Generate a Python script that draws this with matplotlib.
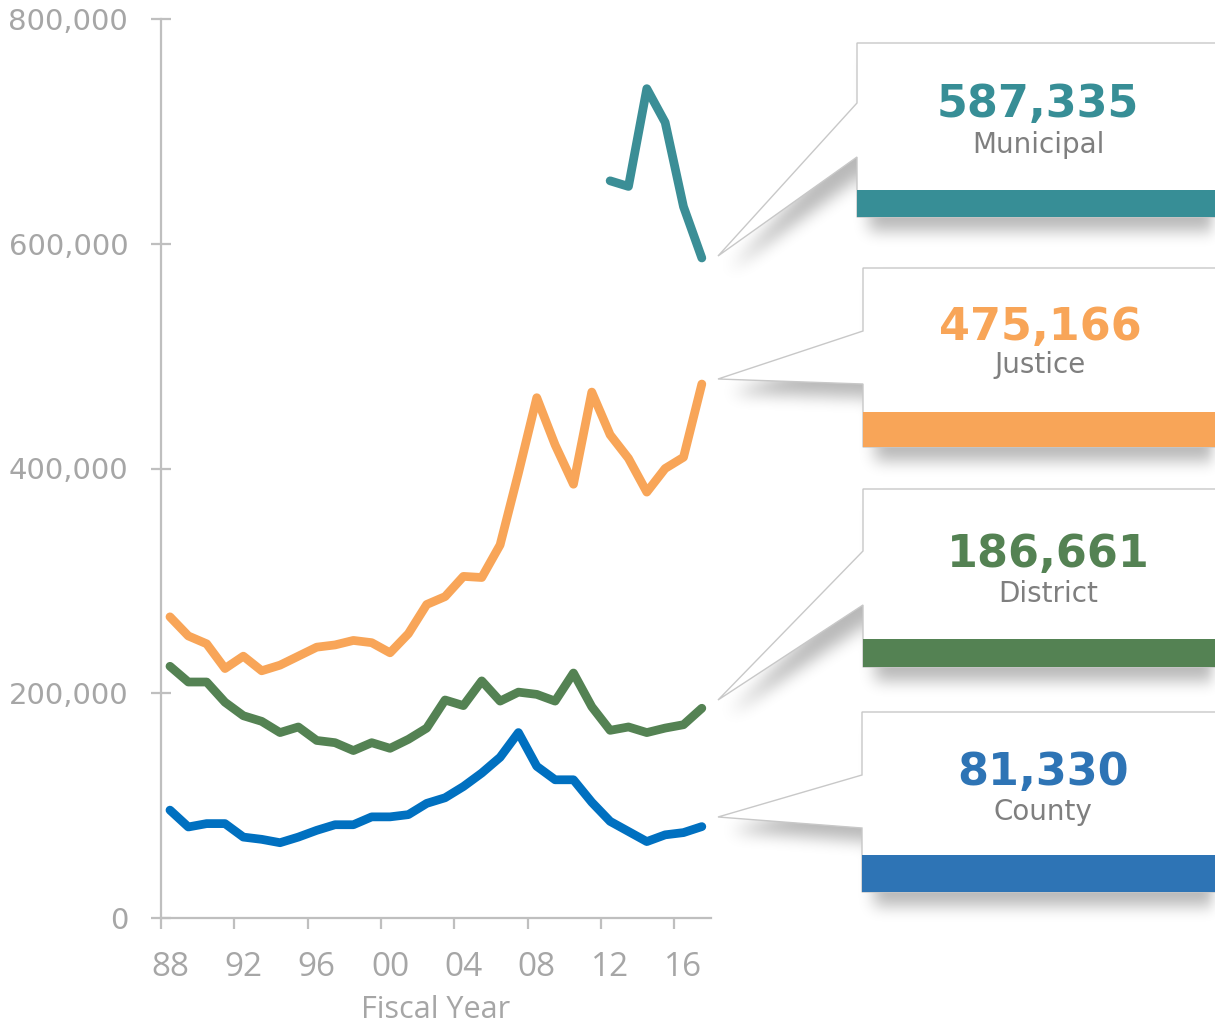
import numpy as np
import matplotlib.pyplot as plt
from matplotlib.patches import Polygon, Rectangle
from matplotlib.path import Path
from matplotlib.ticker import FixedLocator, NullFormatter

# caseload by court type, fiscal years 1988-2017
years = list(range(1988, 2018))
year_labels = ['88', '92', '96', '00', '04', '08', '12', '16']

county = [96000, 81000, 84000, 84000, 72000, 70000, 67000, 72000, 78000, 83000,
          83000, 90000, 90000, 92000, 102000, 107000, 117000, 129000, 143000, 165000,
          135000, 123000, 123000, 103000, 86000, 77000, 68000, 74000, 76000, 81330]
district = [224000, 210000, 210000, 192000, 180000, 175000, 165000, 170000, 158000, 156000,
            149000, 156000, 151000, 159000, 169000, 194000, 189000, 211000, 193000, 201000,
            199000, 193000, 218000, 188000, 167000, 170000, 165000, 169000, 172000, 186661]
justice = [268000, 251000, 244000, 222000, 233000, 220000, 225000, 233000, 241000, 243000,
           247000, 245000, 236000, 253000, 279000, 286000, 304000, 303000, 332000, 396000,
           463000, 421000, 386000, 468000, 430000, 409000, 379000, 400000, 410000, 475166]
municipal = [np.nan] * 24 + [656000, 651000, 738000, 708000, 633000, 587335]

names = ['Municipal', 'Justice', 'District', 'County']
series = [municipal, justice, district, county]
line_colors = ['#3B8E96', '#F8A558', '#548253', '#0070C0']
bar_colors = ['#378E96', '#F8A558', '#548253', '#2E74B5']

W, H = 1215, 1029
fig = plt.figure(figsize=(W / 100, H / 100), dpi=100)

x0, x1 = 160.8, 711.0
y0, y1 = 918.0, 19.0
ax = fig.add_axes([x0 / W, 1 - y0 / H, (x1 - x0) / W, (y0 - y1) / H])
idx = np.arange(len(years))
for s, c in zip(series, line_colors):
    ax.plot(idx, s, color=c, lw=6.3, solid_capstyle='round', solid_joinstyle='round', clip_on=False)

ax.set_xlim(-0.5, len(years) - 0.5)
ax.set_ylim(0, 800000)
grey = '#BFBFBF'
for side in ['top', 'right']:
    ax.spines[side].set_visible(False)
for side in ['left', 'bottom']:
    ax.spines[side].set_color(grey)
    ax.spines[side].set_linewidth(1.6)

ax.set_yticks([0, 200000, 400000, 600000, 800000])
ax.set_yticklabels([f'{v:,}' for v in [0, 200000, 400000, 600000, 800000]])
ax.tick_params(axis='y', direction='inout', length=15, width=1.6, color=grey, pad=16,
               labelsize=21, labelcolor='#A6A6A6')

ax.xaxis.set_major_locator(FixedLocator(np.arange(-0.5, len(years) - 1, 4)))
ax.xaxis.set_major_formatter(NullFormatter())
ax.xaxis.set_minor_locator(FixedLocator(np.arange(0, len(years), 4)))
ax.set_xticklabels(year_labels, minor=True, family='Open Sans')
ax.tick_params(axis='x', which='major', direction='out', length=8, width=1.6, color=grey)
ax.tick_params(axis='x', which='minor', length=0, pad=24, labelsize=24, labelcolor='#A6A6A6')
ax.set_xlabel('Fiscal Year', family='Open Sans', fontsize=22, color='#A6A6A6', labelpad=8)

# callout boxes, pixel layout: left, top, upper attach, lower attach, tip, bar top, bar bottom,
# text x, number baseline, label baseline
layout = [
    (857, 43, 103, 157, (718, 256), 190, 217, 1038, 117, 153),
    (863, 268, 331, 384, (718, 379), 412, 447, 1040, 340, 373),
    (863, 489, 551, 605, (718, 700), 639, 667, 1048, 567, 602),
    (862, 712, 775, 828, (718, 817), 855, 892, 1043, 785, 820),
]

ov = fig.add_axes([0, 0, 1, 1])
ov.patch.set_visible(False)
ov.axis('off')

# soft shadow under each callout
gy, gx = np.mgrid[0:H, 0:W] + 0.5
pts = np.column_stack([gx.ravel(), gy.ravel()])
mask = np.zeros(H * W)
shapes = []
for (L, top, up, low, tip, bt, bb, tx, nb, lb) in layout:
    shape = [(L, top), (W + 20, top), (W + 20, bb), (L, bb), (L, low), tip, (L, up)]
    shapes.append(shape)
    moved = [(px + 12, py + 14) for px, py in shape]
    mask = np.maximum(mask, Path(moved).contains_points(pts))
mask = mask.reshape(H, W)
k = np.ones(15) / 15
for _ in range(3):
    mask = np.apply_along_axis(lambda m: np.convolve(m, k, mode='same'), 0, mask)
    mask = np.apply_along_axis(lambda m: np.convolve(m, k, mode='same'), 1, mask)
rgba = np.zeros((H, W, 4))
rgba[..., 3] = 0.28 * mask
ov.imshow(rgba, extent=(0, W, H, 0), interpolation='bilinear', aspect='auto', zorder=1)

for shape, lay, name, s, bc in zip(shapes, layout, names, series, bar_colors):
    L, top, up, low, tip, bt, bb, tx, nb, lb = lay
    ov.add_patch(Polygon(shape, closed=True, facecolor='white', edgecolor='#C8C8C8', lw=1, zorder=2))
    ov.add_patch(Rectangle((L, bt), W + 20 - L, bb - bt, facecolor=bc, edgecolor='none', zorder=3))
    ov.text(tx, nb, f'{int(s[-1]):,}', ha='center', va='baseline', fontsize=32,
            fontweight='bold', color=bc, zorder=4)
    ov.text(tx, lb, name, ha='center', va='baseline', fontsize=20, color='#7F7F7F', zorder=4)

ov.set_xlim(0, W)
ov.set_ylim(H, 0)

fig.savefig('out.png', dpi=100)
plt.close(fig)
